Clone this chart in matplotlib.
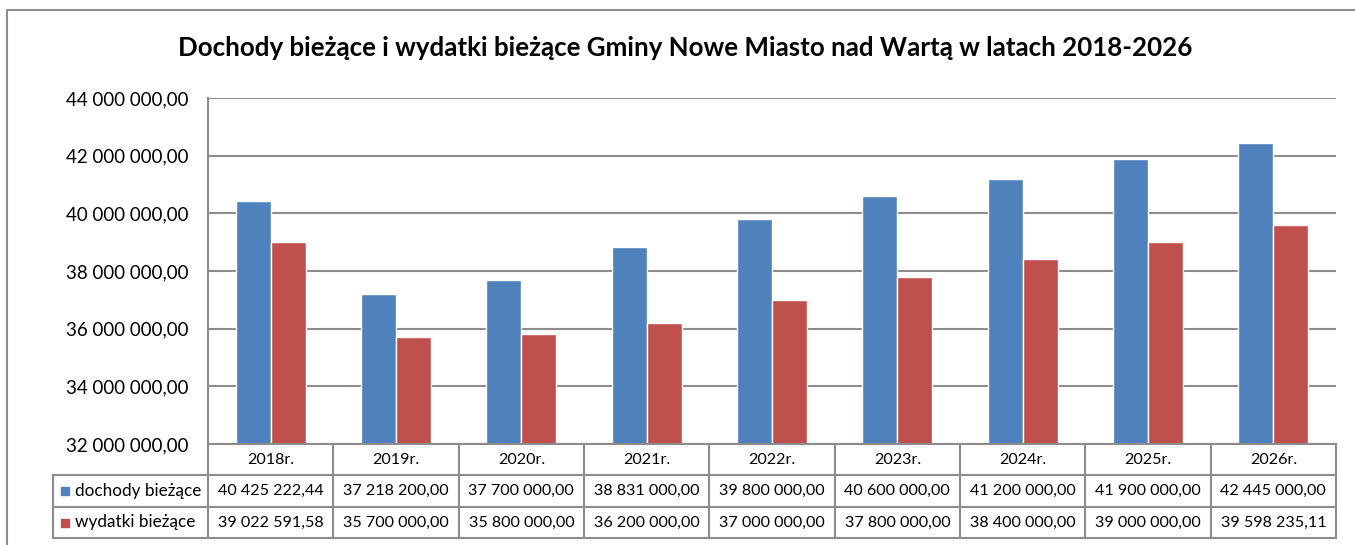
import matplotlib
matplotlib.use("Agg")
import numpy as np
from matplotlib import pyplot as plt
from matplotlib.patches import Rectangle
from matplotlib.ticker import FuncFormatter

years = ["2018r.", "2019r.", "2020r.", "2021r.", "2022r.", "2023r.", "2024r.", "2025r.", "2026r."]
dochody = [40425222.44, 37218200.00, 37700000.00, 38831000.00, 39800000.00,
           40600000.00, 41200000.00, 41900000.00, 42445000.00]
wydatki = [39022591.58, 35700000.00, 35800000.00, 36200000.00, 37000000.00,
           37800000.00, 38400000.00, 39000000.00, 39598235.11]
series_names = ["dochody bieżące", "wydatki bieżące"]
colors = ["#4f81bd", "#c0504d"]
line_col = "#8c8c8c"


def pl_fmt(v):
    s = f"{v:,.2f}"
    return s.replace(",", " ").replace(".", ",")


plt.rcParams["font.family"] = ["Lato", "DejaVu Sans"]

W, H = 1355, 545
fig = plt.figure(figsize=(W / 100, H / 100), dpi=100)

# plot area in pixels
left, right, top, bottom = 208, 1336, 98, 444
ax = fig.add_axes([left / W, 1 - bottom / H, (right - left) / W, (bottom - top) / H])

x = np.arange(len(years))
w = 0.28
ax.bar(x - w / 2, dochody, w, color=colors[0], edgecolor="white", linewidth=1, zorder=3)
ax.bar(x + w / 2, wydatki, w, color=colors[1], edgecolor="white", linewidth=1, zorder=3)

ax.set_xlim(-0.5, len(years) - 0.5)
ax.set_ylim(32000000, 44000000)
ax.set_yticks(np.arange(32000000, 44000001, 2000000))
ax.yaxis.set_major_formatter(FuncFormatter(lambda v, p: pl_fmt(v)))
ax.tick_params(axis="y", length=0, labelsize=13.5, pad=14)
ax.set_xticks([])
ax.grid(axis="y", color=line_col, linewidth=1.5, zorder=0)
for s in ["top", "right", "bottom"]:
    ax.spines[s].set_visible(False)
ax.spines["left"].set_color(line_col)
ax.spines["left"].set_linewidth(1.5)

# overlay in pixel coordinates for the data table and frame
ov = fig.add_axes([0, 0, 1, 1], zorder=5)
ov.set_xlim(0, W)
ov.set_ylim(H, 0)
ov.axis("off")
ov.patch.set_alpha(0)

rows_y = [444, 475, 507, 538]
col_w = (right - left) / len(years)
col_x = [left + i * col_w for i in range(len(years) + 1)]
lab_left = 53
lk = dict(color=line_col, linewidth=1.5)

# horizontal lines
ov.plot([left, right], [rows_y[0]] * 2, **lk)
for yy in rows_y[1:]:
    ov.plot([lab_left, right], [yy] * 2, **lk)
# vertical lines
for xx in col_x:
    ov.plot([xx, xx], [rows_y[0], rows_y[-1]], **lk)
ov.plot([lab_left, lab_left], [rows_y[1], rows_y[-1]], **lk)

fs = 11.6
for i, yr in enumerate(years):
    xc = (col_x[i] + col_x[i + 1]) / 2
    ov.text(xc, (rows_y[0] + rows_y[1]) / 2, yr, ha="center", va="center", fontsize=fs)
    for r, vals in enumerate([dochody, wydatki]):
        ov.text(xc, (rows_y[r + 1] + rows_y[r + 2]) / 2, pl_fmt(vals[i]),
                ha="center", va="center", fontsize=fs)

for r, (name, col) in enumerate(zip(series_names, colors)):
    yc = (rows_y[r + 1] + rows_y[r + 2]) / 2
    ov.add_patch(Rectangle((61, yc - 4), 8, 8, color=col))
    ov.text(75, yc, name, ha="left", va="center", fontsize=12.3)

# outer chart frame
ov.plot([7, 7, W + 5], [H + 5, 10, 10], color=line_col, linewidth=1.5)

ov.text(685, 48, "Dochody bieżące i wydatki bieżące Gminy Nowe Miasto nad Wartą w latach 2018-2026",
        ha="center", va="center", fontsize=18.6, fontweight="bold")

fig.savefig("out.png", dpi=100)
